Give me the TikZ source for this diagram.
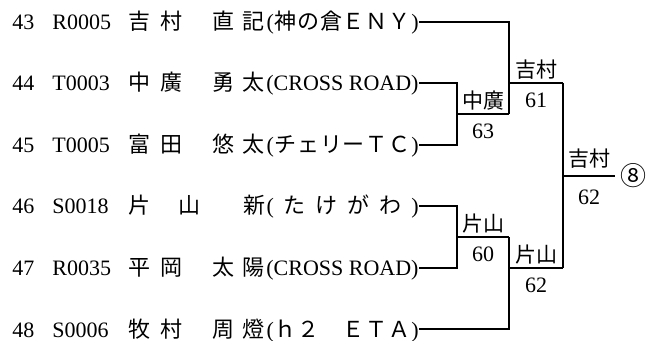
\documentclass[tikz,border=0pt]{standalone}
\usepackage{fontspec}
\setmainfont{Liberation Serif}
\newfontfamily\jp{Noto Sans CJK JP}
\usetikzlibrary{positioning}

\newcommand{\basefont}{\fontsize{11}{13}\selectfont}
\newcommand{\pname}[4]{{\jp\makebox[16pt][l]{#1}\makebox[26pt][l]{#2}\makebox[15pt][l]{#3}#4}}
\newcommand{\spreadchars}[1]{\ifx#1\relax\else\hfill#1\expandafter\spreadchars\fi}
\newcommand{\jpclub}[1]{\makebox[76pt]{(\jp\spreadchars#1\relax\hfill\rmfamily)}}
\newcommand{\enclub}[1]{\makebox[76pt][r]{#1}}

\begin{document}
\begin{tikzpicture}[x=0.5pt, y=-0.5pt, font=\basefont,
    entry/.style={anchor=base west, inner sep=0pt},
    team/.style={anchor=base east, inner sep=0pt, text height=8pt, text depth=0pt},
    bracket/.style={line width=0.55pt},
    winner/.style={above, inner sep=1.5pt, font=\fontsize{10.5}{12.6}\selectfont\jp},
    score/.style={below, inner sep=4.5pt}]
    \useasboundingbox (0,0) rectangle (657,341);

    % Players
    \foreach \no/\yy/\pid/\nam/\team in {
        43/22/R0005/{\pname{吉}{村}{直}{記}}/{\jpclub{神の倉ＥＮＹ}},
        44/83/T0003/{\pname{中}{廣}{勇}{太}}/{\enclub{(CROSS ROAD)}},
        45/145/T0005/{\pname{富}{田}{悠}{太}}/{\jpclub{チェリーＴＣ}},
        46/206/S0018/{{\jp\makebox[25pt][l]{片}\makebox[32.5pt][l]{山}新}}/{\jpclub{たけがわ}},
        47/268/R0035/{\pname{平}{岡}{太}{陽}}/{\enclub{(CROSS ROAD)}},
        48/329/S0006/{\pname{牧}{村}{周}{燈}}/{\jpclub{ｈ２　ＥＴＡ}}}
    {
        \node[entry] (n\no) at (12,\yy+8) {\no};
        \node[entry] (i\no) at (52,\yy+8) {\pid};
        \node[entry] (k\no) at (128,\yy+8) {\nam};
        \node[team] (t\no) at (419,\yy+8) {\team};
    }

    % Match joints
    \coordinate (q1) at (457,114);
    \coordinate (q2) at (457,237);
    \coordinate (s1) at (509,83);
    \coordinate (s2) at (509,268);
    \coordinate (fin) at (563,176);
    \coordinate (finend) at (615,176);

    % First round
    \draw[bracket] (t44.east) -| (q1) |- (t45.east);
    \draw[bracket] (t46.east) -| (q2) |- (t47.east);
    \draw[bracket] (q1) -- (q1 -| s1) node[midway, winner] (w1) {中廣} node[midway, score] (sc1) {63};
    \draw[bracket] (q2) -- (q2 -| s2) node[midway, winner] (w2) {片山} node[midway, score] (sc2) {60};

    % Second round
    \draw[bracket] (t43.east) -| (q1 -| s1);
    \draw[bracket] (t48.east) -| (q2 -| s2);
    \draw[bracket] (s1) -- (s1 -| fin) node[midway, winner] (w3) {吉村} node[midway, score] (sc3) {61};
    \draw[bracket] (s2) -- (s2 -| fin) node[midway, winner] (w4) {片山} node[midway, score] (sc4) {62};

    % Final
    \draw[bracket] (s1 -| fin) -- (s2 -| fin);
    \draw[bracket] (fin) -- (finend) node[midway, winner, yshift=2pt] (w5) {吉村} node[midway, score, yshift=-2pt] (sc5) {62};
    \node[right=1.5pt of finend, font=\fontsize{13}{15}\selectfont\jp, inner sep=1pt] (rank) {⑧};
\end{tikzpicture}
\end{document}
